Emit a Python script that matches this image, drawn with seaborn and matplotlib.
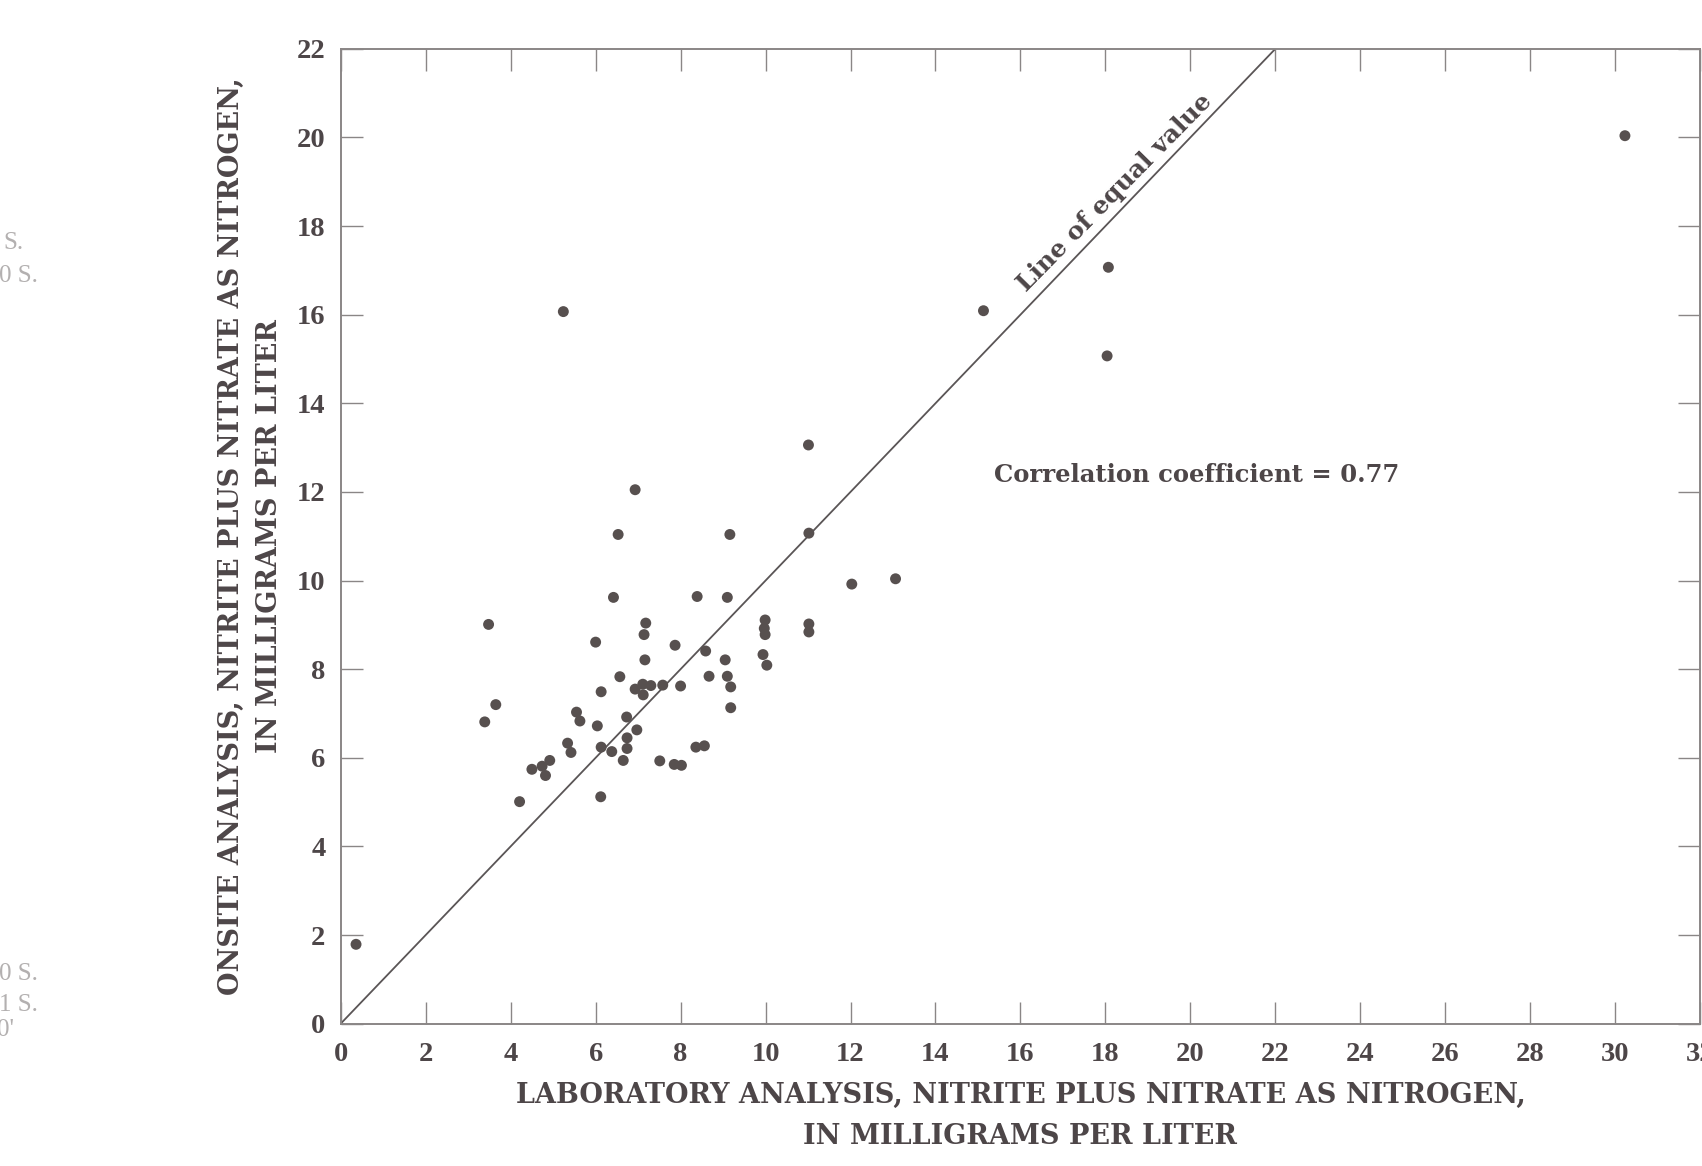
import matplotlib
matplotlib.use("Agg")
import matplotlib.pyplot as plt
import numpy as np
import pandas as pd
import seaborn as sns

# laboratory vs onsite nitrite plus nitrate as nitrogen, mg/L
lab = [0.36, 5.24, 6.93, 11.01, 12.03, 13.06, 15.13, 18.07, 18.04, 30.23,
       6.53, 9.16, 11.02, 6.42, 8.39, 9.10, 3.48, 7.18, 7.14, 9.99,
       9.97, 9.99, 11.02, 11.02, 6.00, 7.87, 8.59, 7.16, 9.05, 9.94,
       10.03, 6.57, 8.67, 9.10, 9.18, 9.18, 6.93, 7.11, 7.30, 7.12,
       7.58, 8.00, 6.13, 3.65, 3.39, 5.55, 5.63, 6.04, 6.73, 6.97,
       6.74, 6.74, 6.13, 6.38, 6.65, 5.34, 5.42, 7.51, 7.85, 8.02,
       8.36, 8.56, 4.92, 4.74, 4.50, 4.82, 4.21, 6.12]
onsite = [1.79, 16.07, 12.05, 13.06, 9.92, 10.04, 16.09, 17.07, 15.07, 20.04,
          11.04, 11.04, 11.07, 9.62, 9.64, 9.62, 9.01, 9.04, 8.78, 9.11,
          8.92, 8.78, 9.02, 8.84, 8.61, 8.54, 8.41, 8.21, 8.21, 8.33,
          8.09, 7.83, 7.84, 7.84, 7.60, 7.13, 7.55, 7.66, 7.63, 7.42,
          7.64, 7.62, 7.49, 7.20, 6.81, 7.03, 6.83, 6.72, 6.92, 6.63,
          6.45, 6.21, 6.24, 6.14, 5.94, 6.33, 6.12, 5.93, 5.85, 5.83,
          6.24, 6.27, 5.94, 5.81, 5.74, 5.60, 5.01, 5.12]
x_ticks = list(range(0, 33, 2))
y_ticks = list(range(0, 23, 2))
corr_label = "Correlation coefficient = 0.77"

ink = "#4d4648"
dot = "#57504f"
rule = "#8a8686"
wide = ["DejaVu Serif"]

sns.set_style("ticks")
plt.rcParams["font.family"] = ["Liberation Serif", "DejaVu Serif"]

df = pd.DataFrame({"lab": lab, "onsite": onsite})

fig = plt.figure(figsize=(17.02, 11.66), dpi=100)
ax = fig.add_axes([0.2002, 0.1221, 0.7987, 0.836])

sns.scatterplot(data=df, x="lab", y="onsite", ax=ax, s=62, color=dot,
                edgecolor="none", linewidth=0, zorder=3)
ax.axline((0, 0), slope=1, color="#5a5556", lw=1.3, zorder=2)

ax.set_xlim(0, 32)
ax.set_ylim(0, 22)
ax.set_xticks(x_ticks)
ax.set_yticks(y_ticks)
ax.tick_params(direction="in", length=16, width=1.0, color=rule,
               top=True, right=True, labelsize=20.5, labelcolor=ink)
ax.tick_params(axis="x", pad=13)
ax.tick_params(axis="y", pad=11)
for lbl in ax.get_xticklabels() + ax.get_yticklabels():
    lbl.set_fontweight("bold")
for sp in ax.spines.values():
    sp.set_visible(True)
    sp.set_color(rule)
    sp.set_linewidth(1.4)

ax.set_xlabel("LABORATORY ANALYSIS, NITRITE PLUS NITRATE AS NITROGEN,\nIN MILLIGRAMS PER LITER",
              family=wide, fontsize=19.5, fontweight="bold", color=ink,
              linespacing=1.65, labelpad=11)
ax.set_ylabel("ONSITE ANALYSIS, NITRITE PLUS NITRATE AS NITROGEN,\nIN MILLIGRAMS PER LITER",
              family=wide, fontsize=19.5, fontweight="bold", color=ink,
              linespacing=1.5, labelpad=10)

ax.annotate("Line of equal value", xy=(18.5, 18.5), xytext=(-5, 5),
            textcoords="offset points", rotation=45.5, rotation_mode="anchor",
            ha="center", va="baseline", family=wide, fontsize=18,
            fontweight="bold", color=ink)
ax.text(15.38, 12.39, corr_label, ha="left", va="center", family=wide, fontsize=17.5,
        fontweight="bold", color=ink)

# faint show-through from the facing page
for txt, xx, yy in [("S.", 0.014, 0.792), ("0 S.", 0.0223, 0.763), ("0 S.", 0.0223, 0.165),
                    ("1 S.", 0.0223, 0.138), ("0'", 0.0085, 0.117)]:
    fig.text(xx, yy, txt, ha="right", va="center", fontsize=18, color="#b3b0b0")

fig.savefig("out.png", dpi=100)
